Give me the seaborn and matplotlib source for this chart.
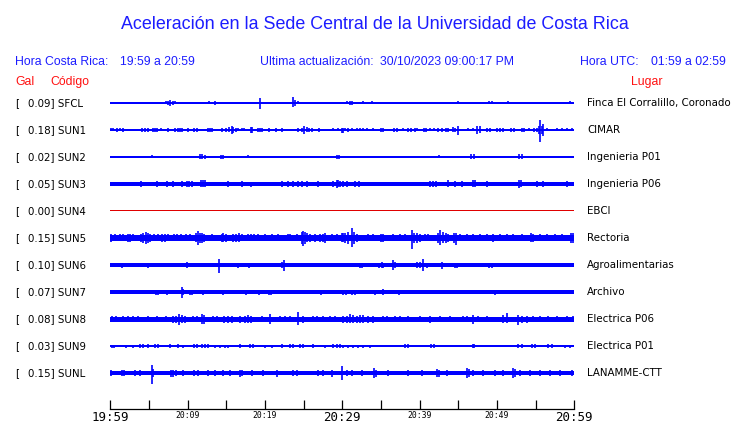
import matplotlib
matplotlib.use("Agg")
import matplotlib.pyplot as plt
import matplotlib.transforms as mtransforms
import seaborn as sns

# station info
codes = ["SFCL", "SUN1", "SUN2", "SUN3", "SUN4", "SUN5", "SUN6", "SUN7", "SUN8", "SUN9", "SUNL"]
gal = [0.09, 0.18, 0.02, 0.05, 0.00, 0.15, 0.10, 0.07, 0.08, 0.03, 0.15]
places = ["Finca El Corralillo, Coronado", "CIMAR", "Ingenieria P01", "Ingenieria P06", "EBCI",
          "Rectoria", "Agroalimentarias", "Archivo", "Electrica P06", "Electrica P01", "LANAMME-CTT"]

# background noise level of each trace (half width)
noise = [0.6, 0.7, 0.6, 2.0, 0.5, 2.7, 1.6, 1.7, 2.5, 0.7, 2.0]

# spikes: (minute after 19:59, up[, down])
sfcl = [(1.04, 1), (1.56, 1.3), (6.86, 1), (7.16, 1.5), (7.5, 2), (7.76, 3), (8.06, 2), (8.37, 1.5),
        (12.3, 1), (12.7, 1.5), (13.02, 1.3), (13.54, 2), (17.63, 0.8), (19.36, 4.7, 6.3), (22.6, 1),
        (23.67, 6.3, 3.7), (23.9, 3), (24.3, 1.5), (24.66, 1.3), (25.09, 1.3), (25.4, 1.3), (25.7, 1.3),
        (27.76, 1.3), (28.2, 1), (29.9, 1), (30.2, 1.3), (30.65, 1.5), (31.0, 1.5, 2), (31.3, 2),
        (31.64, 1), (31.94, 1), (32.37, 1), (32.63, 1.5), (33.8, 1.5), (35.95, 1), (36.4, 1), (37.37, 1),
        (38.3, 1), (38.75, 1), (40.48, 1), (41.0, 1), (41.42, 0.8), (42.4, 0.8), (43.28, 0.8), (45.0, 1.5),
        (45.56, 1), (46.5, 1), (47.16, 1), (48.2, 1), (49.0, 1.5), (49.35, 1.5), (49.74, 1), (51.47, 1.5),
        (52.76, 1), (53.3, 1.3), (55.43, 1.3), (56.85, 0.8), (57.63, 1), (58.36, 1), (58.8, 1), (59.5, 1.5)]
sun1 = [(0.09, 1.5), (0.39, 1.5), (0.82, 1.7), (1.25, 1.5), (1.69, 1.7), (2.12, 1.3), (2.76, 1.3), (3.41, 1.3),
        (4.06, 2), (4.49, 2), (4.83, 2), (5.57, 2), (5.78, 2), (6.0, 2), (6.56, 1.5), (7.42, 1.7), (8.37, 1.7),
        (8.71, 2), (9.01, 2), (9.31, 2), (10.0, 1.7), (10.87, 1.7), (11.17, 1.7), (11.6, 1.3), (12.6, 2),
        (12.89, 2), (13.2, 2), (14.49, 1.7), (14.92, 2), (15.35, 2.5), (15.69, 4), (15.91, 3), (16.2, 1.7),
        (16.56, 1.5), (16.99, 1.5), (17.33, 1.5), (18.15, 3), (18.37, 3), (19.06, 1.7), (19.36, 2), (19.57, 1.7),
        (20.52, 1.7), (21.38, 1.7), (22.16, 1.7), (22.8, 1.3), (24.32, 1.7), (24.75, 2), (25.09, 4), (25.39, 2.5),
        (25.69, 2), (26.04, 2), (26.99, 1.7), (28.84, 1.5), (29.49, 1.5), (30.0, 2.3, 3), (30.04, 1.5, 3.5),
        (30.35, 1.5), (30.78, 1.7), (31.21, 1.5), (31.86, 1.5), (32.29, 1.5), (32.63, 1.5), (33.15, 1.5),
        (34.01, 1.5), (34.96, 2), (35.22, 2), (35.95, 1.3), (36.68, 1.7), (37.03, 1.7), (37.89, 1.5), (38.54, 1.7),
        (38.84, 1.7), (39.4, 1.7), (39.7, 1.5), (40.56, 1.7), (40.82, 1.7), (41.34, 1.5), (41.86, 1.5), (42.42, 1.7),
        (42.85, 1.7), (43.41, 1.7), (43.71, 1.7), (44.27, 2.5), (44.57, 1.7), (45.0, 4.3, 5.3), (46.29, 1.5),
        (46.94, 1.5), (47.46, 4), (47.8, 3.5), (48.75, 1.7), (49.1, 1.7), (50.04, 1.7), (50.39, 1.7), (50.73, 1.7),
        (51.77, 1.7), (52.2, 1.7), (53.19, 1.7), (53.49, 1.7), (54.18, 1.5), (54.79, 1.7), (55.13, 2), (55.48, 4),
        (55.6, 10.3, 12.3), (55.82, 4), (55.99, 6.3), (56.51, 1.5), (57.72, 1.5), (58.36, 1.5), (59.01, 1.5),
        (59.66, 1.5)]
sun2 = [(4.49, 1.3), (5.35, 1.5), (7.94, 1.3), (8.8, 1.3), (11.6, 2.5), (11.9, 2.5), (12.2, 2), (13.54, 1.3),
        (14.27, 2), (14.62, 2), (15.18, 1.3), (17.76, 1.5), (20.74, 1), (22.16, 1.3), (23.02, 1.3), (23.24, 1.3),
        (24.75, 1.3), (27.33, 0.8, 1.3), (29.27, 2), (29.62, 2), (30.35, 0.8, 1.5), (31.64, 1), (32.2, 1.3),
        (34.36, 1), (36.6, 1), (37.89, 1), (39.7, 1), (41.68, 1), (42.5, 1.5), (43.71, 1.3), (44.01, 1.3),
        (44.7, 1), (46.64, 2.5), (47.03, 2.5), (52.85, 2.5), (53.19, 2.5), (54.7, 1.3), (55.04, 1.3),
        (55.35, 1.3), (55.56, 1.3), (55.99, 1.3), (59.23, 1)]
sun3 = [(3.97, 3), (6.0, 3), (7.29, 3), (8.06, 3), (9.23, 3), (9.88, 3), (10.18, 3), (10.52, 3), (11.69, 3.5),
        (11.94, 3.5), (12.2, 3.5), (15.26, 2.7), (16.99, 2.7), (18.19, 2.3, 3.3), (22.16, 3), (23.02, 3),
        (23.67, 3), (24.32, 3), (24.75, 3), (25.48, 3), (26.9, 2.7), (28.84, 3), (29.27, 4), (29.49, 3.5),
        (29.7, 3), (30.13, 3), (30.56, 3), (31.64, 3), (32.2, 3), (41.34, 3), (41.77, 3), (42.07, 3),
        (43.62, 3.5), (44.57, 3), (45.43, 3), (46.94, 3.7, 3.3), (47.16, 3.5), (48.75, 3), (52.89, 4),
        (53.1, 3.5), (55.22, 3), (55.99, 3), (59.01, 2.7)]
sun4 = []
sun5 = [(0.05, 4), (0.61, 3.5), (1.25, 3.5), (1.69, 3.5), (2.25, 4), (2.55, 4), (2.98, 3.5), (3.97, 4),
        (4.27, 5), (4.57, 6.3), (4.83, 5), (5.13, 4), (5.69, 3.5), (6.12, 3.5), (6.73, 4), (7.07, 4), (7.51, 3.5),
        (8.28, 3.5), (8.58, 3.5), (9.14, 3.5), (9.75, 3.5), (10.31, 3.5), (11.04, 4.5), (11.3, 7, 6.7),
        (11.56, 5), (11.9, 5), (12.16, 4), (13.11, 3.5), (14.4, 4), (14.62, 4.5), (14.92, 4), (15.82, 4),
        (16.21, 4), (16.64, 4.5), (16.99, 3.5), (17.76, 3.5), (18.19, 3.5), (18.63, 3.5), (19.14, 3.5),
        (20.0, 3.5), (20.87, 3.5), (21.73, 3.5), (22.94, 3.5), (23.28, 3.5), (24.1, 3.5), (24.75, 6),
        (24.96, 7.3, 8), (25.18, 6), (25.39, 4.5), (25.82, 4), (26.47, 4), (27.12, 4), (27.55, 4), (27.76, 5),
        (28.71, 3.5), (29.27, 3.5), (29.92, 4.5), (30.13, 4.5), (30.35, 5), (30.78, 6), (31.21, 10, 9),
        (31.51, 6), (31.86, 4), (33.36, 3.5), (34.01, 3.5), (34.96, 4), (35.3, 4), (36.51, 3.5), (37.46, 3.5),
        (38.1, 3.5), (38.97, 8, 10.7), (39.27, 5), (39.7, 5), (40.04, 4), (40.69, 3.5), (41.12, 3.5),
        (42.42, 5), (42.63, 8.3, 7.3), (42.98, 5.5), (43.41, 5), (43.71, 4), (44.44, 5), (44.7, 5, 7),
        (45.22, 3.5), (46.08, 3.5), (46.94, 3.5), (47.8, 3.5), (48.67, 3.5), (49.44, 4), (50.39, 3.5),
        (51.25, 3.5), (52.11, 3.5), (53.19, 3.5), (54.36, 4.5), (54.61, 4), (55.56, 3.5), (56.42, 3.5),
        (57.5, 3.5), (58.36, 3.5), (59.53, 5), (59.87, 5)]
sun6 = [(1.47, 2.5), (2.33, 2.3), (4.4, 2.3), (4.92, 2.5), (6.0, 2.3), (8.28, 2.3), (9.88, 3, 2.5), (12.89, 2),
        (13.32, 2), (14.1, 6.3, 7.7), (14.62, 2.3), (15.48, 2.3), (16.56, 2.5), (17.94, 2.5), (19.57, 2),
        (20.65, 2), (21.08, 2), (22.16, 3), (22.46, 4.7, 5.7), (24.32, 2), (25.18, 2), (27.55, 2), (27.98, 2),
        (28.62, 2), (29.49, 2), (30.13, 2), (30.99, 2), (32.29, 2.5), (32.5, 2.5), (34.74, 2.5), (35.09, 3),
        (35.3, 2.5), (36.6, 5, 4.7), (36.81, 3), (38.75, 2.3), (39.7, 3), (40.04, 3), (40.39, 6, 5.7),
        (40.91, 2.5), (41.34, 2.3), (42.85, 3.5), (44.57, 2.5), (44.87, 2.5), (45.43, 2.3), (48.02, 2),
        (49.01, 2.5), (49.31, 2.5), (50.17, 2), (51.47, 2), (52.54, 2), (53.19, 2), (54.05, 2), (55.56, 2),
        (55.78, 2), (56.64, 2), (57.07, 2), (58.15, 2), (58.58, 2), (59.44, 2)]
sun7 = [(1.99, 2.3), (2.33, 2.3), (3.19, 2.3), (3.62, 2.3), (4.27, 2.3), (4.92, 2.3), (5.87, 2.5), (6.12, 2.5),
        (7.38, 2.5), (9.23, 4.7, 5.7), (9.44, 3.3), (10.31, 2.5), (10.61, 2.5), (10.95, 2.3), (11.94, 2.5),
        (13.11, 2.3), (13.54, 2.3), (14.18, 2.3), (14.62, 2.5), (16.34, 2.3), (17.55, 2.5), (19.23, 2.5),
        (20.52, 2.5), (20.78, 2.5), (21.64, 2.3), (22.16, 2.3), (23.45, 2.3), (24.1, 2.3), (24.32, 2.3),
        (25.18, 2.3), (25.61, 2.3), (26.25, 2.3), (27.25, 2.5), (29.06, 2.3), (29.92, 2.3), (30.13, 2.5),
        (30.48, 2.5), (31.21, 2.5), (31.64, 2.5), (33.79, 2.3), (34.23, 2.5), (35.3, 3), (37.37, 2.5),
        (39.27, 2.3), (39.61, 2.3), (41.25, 2.3), (41.68, 2.3), (42.85, 2.3), (43.49, 2.3), (44.79, 2.3),
        (46.73, 2.3), (47.8, 2.3), (49.74, 2.5), (51.12, 2.3), (53.19, 2.3), (54.7, 2.3), (55.78, 2.3),
        (57.72, 2.3), (58.79, 2.3), (59.66, 2.3)]
sun8 = [(0.18, 3), (0.69, 3), (1.69, 3), (2.33, 3), (2.98, 3), (3.62, 3), (4.92, 3), (6.0, 3), (7.16, 3),
        (8.15, 3.5), (8.45, 3.5), (8.88, 5.3, 6), (9.31, 4), (9.66, 3.5), (10.74, 3), (11.17, 3), (11.81, 5),
        (12.07, 4.5), (13.32, 3), (13.75, 3), (14.75, 3.5), (15.26, 3.5), (15.78, 3.5), (16.77, 3.5),
        (17.42, 3.5), (17.85, 4), (18.19, 3.5), (19.66, 3), (20.65, 5.3, 5), (21.94, 3), (22.59, 3), (23.24, 3),
        (24.23, 6.7, 6.3), (24.96, 3.5), (26.25, 3), (26.68, 3), (27.55, 3), (28.41, 3), (29.06, 3),
        (30.13, 3.5), (30.56, 3.5), (30.99, 5.3, 4), (31.42, 4), (31.86, 3.5), (32.29, 4), (32.72, 4),
        (33.36, 3.5), (34.01, 3.5), (35.3, 3), (35.73, 3), (36.81, 3), (37.46, 3), (38.54, 3), (40.04, 3),
        (41.34, 3.5), (42.63, 3), (43.92, 3), (45.65, 3), (46.08, 3), (46.94, 4, 5.3), (47.59, 3), (48.67, 3),
        (50.73, 4), (51.25, 5.7, 3.5), (52.76, 4, 6.3), (53.19, 3.5), (53.84, 3.5), (54.7, 3), (55.56, 3),
        (56.64, 3), (57.72, 3), (59.01, 3), (59.87, 3)]
sun9 = [(0.26, 1.5), (0.52, 1.5), (1.99, 1.5), (2.98, 1.5), (3.84, 1.6), (4.27, 1.6), (4.83, 1.6), (5.78, 2),
        (6.12, 2), (7.72, 1.6), (8.71, 2.3), (9.44, 1.5), (10.87, 1.6), (11.17, 1.6), (11.9, 2), (12.25, 2),
        (12.59, 2), (13.54, 1.5), (14.18, 1.5), (14.83, 1.5), (15.26, 1.5), (16.77, 1.6), (18.07, 2), (18.5, 2),
        (20.0, 1.5), (20.87, 1.5), (22.25, 2), (23.24, 1.6), (23.67, 1.6), (24.53, 1.6), (24.96, 1.6),
        (26.25, 1.6), (27.76, 1.5), (28.84, 2), (29.27, 2), (29.7, 2), (30.13, 1.5), (30.78, 1.5), (31.42, 1.5),
        (32.07, 1.5), (32.72, 1.5), (33.58, 1.5), (35.3, 1.3), (36.17, 1.3), (38.1, 1.6), (38.54, 1.6),
        (39.61, 1.3), (41.42, 1.6), (41.86, 1.6), (42.63, 1.3), (44.36, 1.3), (45.65, 1.3), (46.86, 2),
        (47.07, 2), (48.67, 1.3), (49.74, 1.3), (50.6, 1.3), (51.25, 1.3), (52.76, 2), (53.19, 2), (54.48, 1.6),
        (54.91, 1.6), (55.56, 1.3), (56.64, 1.6), (57.07, 1.6), (58.79, 1.5), (59.44, 1.5)]
sunl = [(0.05, 3), (1.56, 3), (1.81, 3), (3.19, 2.7), (3.84, 2.7), (5.35, 8, 10.7), (5.57, 4), (7.85, 3.5),
        (8.15, 3.5), (8.45, 3), (9.44, 3), (10.87, 3), (11.38, 3), (12.68, 2.7), (13.54, 2.7), (14.62, 3),
        (15.48, 2.7), (16.77, 3.5), (17.07, 3), (18.28, 2.7), (19.79, 2.7), (21.6, 3.5), (23.67, 2.7),
        (24.1, 2.7), (26.9, 2.7), (27.55, 2.7), (28.62, 3.5), (30.0, 7.3), (30.56, 3), (31.21, 3), (32.5, 2.7),
        (34.1, 5), (34.36, 3.5), (35.95, 2.7), (38.54, 2.7), (40.26, 2.7), (42.29, 4), (42.54, 3.5),
        (43.49, 2.7), (46.17, 5), (46.42, 4), (46.94, 2.7), (48.23, 2.7), (49.74, 2.7), (50.82, 2.7),
        (52.03, 5), (52.33, 4), (52.98, 2.7), (54.27, 2.7), (55.56, 2.7), (56.85, 2.7), (58.15, 2.7),
        (59.66, 2.7)]
spikes = [sfcl, sun1, sun2, sun3, sun4, sun5, sun6, sun7, sun8, sun9, sunl]

tick_min = list(range(0, 61, 5))
tick_lbl = ["19:59", "", "20:09", "", "20:19", "", "20:29", "", "20:39", "", "20:49", "", "20:59"]

sns.set_theme(style="white")
plt.rcParams["font.family"] = ["DejaVu Sans"]

W, H = 740, 423
fig = plt.figure(figsize=(W / 100, H / 100), dpi=100)
fig.patch.set_facecolor("white")

row = 27  # spacing between traces
ax = fig.add_axes([110.3 / W, 1 - 409.3 / H, 464 / W, (409.3 - 88) / H])
ax.set_facecolor("white")

blue = "#0000ff"
for i, sp in enumerate(spikes):
    y0 = i * row
    col = "#e00000" if codes[i] == "SUN4" else blue
    ax.fill_between([0, 60], y0 - noise[i], y0 + noise[i], color=col, lw=0)
    if sp:
        ts = [s[0] for s in sp]
        up = [y0 - s[1] for s in sp]
        dn = [y0 + s[-1] for s in sp]
        ax.vlines(ts, up, dn, color=col, lw=1.2)

ax.set_xlim(0, 60)
ax.set_ylim(10 * row + 36.3, -15)
ax.set_yticks([])
ax.set_xticks(tick_min)
ax.set_xticklabels(tick_lbl, family="DejaVu Sans Mono")
for t, lab in zip(tick_min, ax.get_xticklabels()):
    lab.set_fontsize(9 if t % 30 == 0 else 5.9)
ax.tick_params(axis="x", bottom=True, direction="in", length=6.5, width=0.9, color="black",
               pad=1.5, labelcolor="black")
sns.despine(ax=ax, left=True, top=True, right=True)
ax.spines["bottom"].set_color("black")
ax.spines["bottom"].set_linewidth(0.9)

# station labels
tr = mtransforms.blended_transform_factory(fig.transFigure, ax.transData)
for i in range(len(codes)):
    ax.text(15 / W, i * row, "[", transform=tr, fontsize=7.4, va="center", color="black")
    ax.text(28 / W, i * row, f"{gal[i]:.2f}] {codes[i]}", transform=tr, fontsize=7.4, va="center", color="black")
    ax.text(587 / W, i * row, places[i], transform=tr, fontsize=7.4, va="center", color="black")

# header
hblue = "#1c1cff"
red = "#ff1010"
hf = "Liberation Sans"
fig.text(375 / W, 1 - 29 / H, "Aceleración en la Sede Central de la Universidad de Costa Rica",
         ha="center", va="baseline", fontsize=12.9, color=hblue, family=hf)
fig.text(15 / W, 1 - 65 / H, "Hora Costa Rica:", fontsize=8.8, color=hblue, family=hf, va="baseline")
fig.text(120 / W, 1 - 65 / H, "19:59 a 20:59", fontsize=8.8, color=hblue, family=hf, va="baseline")
fig.text(260 / W, 1 - 65 / H, "Ultima actualización:", fontsize=8.8, color=hblue, family=hf, va="baseline")
fig.text(380 / W, 1 - 65 / H, "30/10/2023 09:00:17 PM", fontsize=8.8, color=hblue, family=hf, va="baseline")
fig.text(580 / W, 1 - 65 / H, "Hora UTC:", fontsize=8.8, color=hblue, family=hf, va="baseline")
fig.text(651 / W, 1 - 65 / H, "01:59 a 02:59", fontsize=8.8, color=hblue, family=hf, va="baseline")
fig.text(15 / W, 1 - 85 / H, "Gal", fontsize=8.8, color=red, family=hf, va="baseline")
fig.text(50 / W, 1 - 85 / H, "Código", fontsize=8.8, color=red, family=hf, va="baseline")
fig.text(631 / W, 1 - 85 / H, "Lugar", fontsize=8.8, color=red, family=hf, va="baseline")

fig.savefig("out.png", dpi=100, facecolor="white")
